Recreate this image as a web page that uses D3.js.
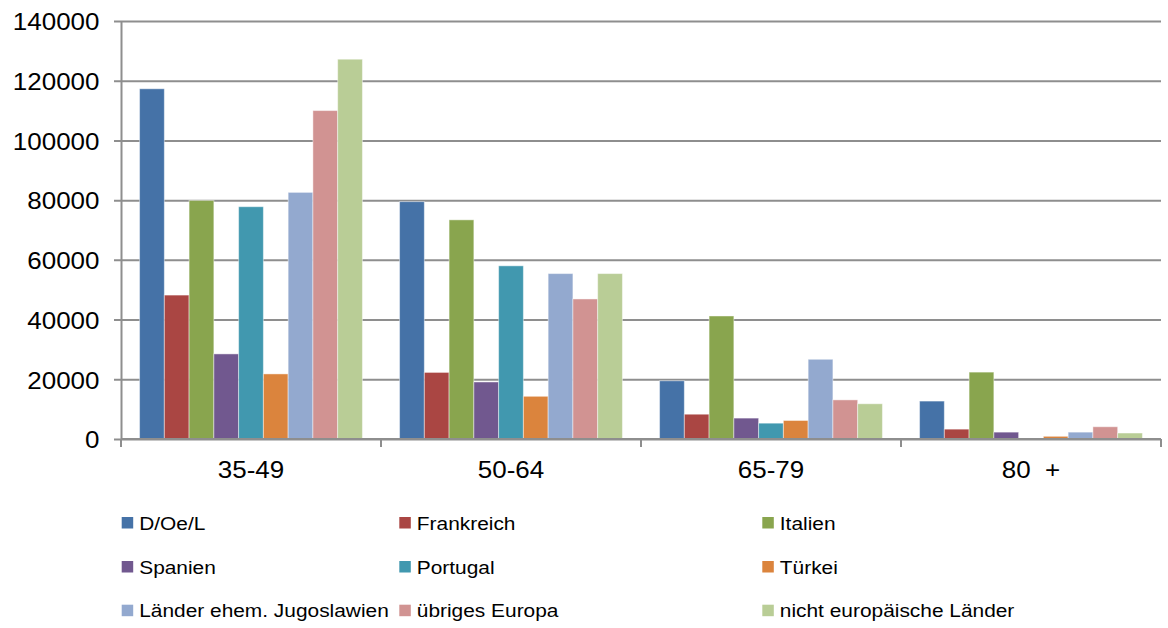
<!DOCTYPE html>
<html>
<head>
<meta charset="utf-8">
<script src="https://cdn.jsdelivr.net/npm/d3@7"></script>
<style>
  body { margin: 0; background: #fff; }
  svg text { font-family: "Liberation Sans", Arial, sans-serif; fill: #000; white-space: pre; }
</style>
</head>
<body>
<svg width="1168" height="628"></svg>
<script>
// age groups on the x axis
var categories = ["35-49", "50-64", "65-79", "80  +"];

// origin groups (legend order)
var seriesNames = [
  "D/Oe/L", "Frankreich", "Italien",
  "Spanien", "Portugal", "Türkei",
  "Länder ehem. Jugoslawien", "übriges Europa", "nicht europäische Länder"
];

var colors = ["#4572A7", "#AA4643", "#89A54E", "#71588F", "#4198AF",
              "#DB843D", "#93A9CF", "#D19392", "#B9CD96"];

// one array per series, values for each age group
var dOeL        = [117300, 79500, 19500, 12700];
var frankreich  = [48200, 22300, 8300, 3300];
var italien     = [79900, 73400, 41200, 22400];
var spanien     = [28500, 19100, 7000, 2300];
var portugal    = [77800, 58000, 5300, 200];
var tuerkei     = [21800, 14300, 6200, 900];
var jugoslawien = [82600, 55400, 26700, 2300];
var uebrEuropa  = [110000, 46900, 13100, 4100];
var nichtEurop  = [127200, 55400, 11800, 2000];

var seriesValues = [dOeL, frankreich, italien, spanien, portugal,
                    tuerkei, jugoslawien, uebrEuropa, nichtEurop];

var yTicks = [0, 20000, 40000, 60000, 80000, 100000, 120000, 140000];

var svg = d3.select("svg");
var margin = { top: 21, left: 121, right: 7, bottom: 189 };
var width = 1168 - margin.left - margin.right,
  height = 628 - margin.top - margin.bottom;
var stretch = 1.13; // text in the original is a bit wider than it is tall

var g = svg.append("g").attr("transform", "translate(" + margin.left + "," + margin.top + ")");

var x0 = d3.scaleBand().domain(categories).range([0, width]);
var x1 = d3.scaleBand().domain(d3.range(seriesNames.length))
  .range([0, x0.bandwidth()]).paddingInner(0).paddingOuter(0.75);
var y = d3.scaleLinear().domain([0, 140000]).range([height, 0]);

// y axis + gridlines
var yAxis = g.append("g").call(d3.axisLeft(y).tickValues(yTicks).tickSizeOuter(0).tickFormat(d3.format("d")));
yAxis.select(".domain").attr("stroke", "#8e8e8e").attr("stroke-width", 2);
yAxis.selectAll(".tick line").attr("x1", -7).attr("x2", width)
  .attr("stroke", "#8e8e8e").attr("stroke-width", 2);
yAxis.selectAll(".tick text")
  .attr("x", -21.5 / stretch).attr("dy", "0.38em")
  .attr("transform", "scale(" + stretch + ",1)")
  .style("font-size", "23px");

// bars
var groups = g.selectAll(".cat")
  .data(categories)
  .enter()
  .append("g")
  .attr("transform", function(d) { return "translate(" + x0(d) + ",0)"; });

groups.selectAll("rect")
  .data(function(d, ci) {
    return seriesValues.map(function(vals, si) { return { s: si, v: vals[ci] }; });
  })
  .enter()
  .append("rect")
  .attr("x", function(d) { return x1(d.s); })
  .attr("y", function(d) { return y(d.v); })
  .attr("width", x1.bandwidth())
  .attr("height", function(d) { return height - y(d.v); })
  .attr("fill", function(d) { return colors[d.s]; })
  .attr("stroke", "#fff")
  .attr("stroke-opacity", 0.45)
  .attr("stroke-width", 1);

// x axis baseline and boundary ticks
g.append("line").attr("x1", 0).attr("x2", width).attr("y1", height).attr("y2", height)
  .attr("stroke", "#8e8e8e").attr("stroke-width", 2);
var bounds = categories.map(function(c) { return x0(c); }).concat([width]);
g.selectAll(".xtick")
  .data(bounds)
  .enter()
  .append("line")
  .attr("x1", function(d) { return d; })
  .attr("x2", function(d) { return d; })
  .attr("y1", height)
  .attr("y2", height + 8)
  .attr("stroke", "#8e8e8e")
  .attr("stroke-width", 2);

g.selectAll(".xlabel")
  .data(categories)
  .enter()
  .append("text")
  .attr("text-anchor", "middle")
  .attr("transform", function(d) {
    return "translate(" + (x0(d) + x0.bandwidth() / 2) + "," + (height + 39) + ") scale(" + stretch + ",1)";
  })
  .style("font-size", "23px")
  .text(function(d) { return d; });

// legend, 3 columns
var legendCols = [121.7, 399.3, 762.3];
var legendRows = [523, 567, 610.7];
var legend = svg.selectAll(".legend")
  .data(seriesNames)
  .enter()
  .append("g")
  .attr("transform", function(d, i) {
    return "translate(" + legendCols[i % 3] + "," + legendRows[Math.floor(i / 3)] + ")";
  });

legend.append("rect")
  .attr("x", 0).attr("y", -6)
  .attr("width", 11.5).attr("height", 11.5)
  .attr("fill", function(d, i) { return colors[i]; });

legend.append("text")
  .attr("transform", "translate(17.5,0) scale(" + stretch + ",1)")
  .attr("dy", "0.36em")
  .style("font-size", "18.5px")
  .text(function(d) { return d; });
</script>
</body>
</html>
